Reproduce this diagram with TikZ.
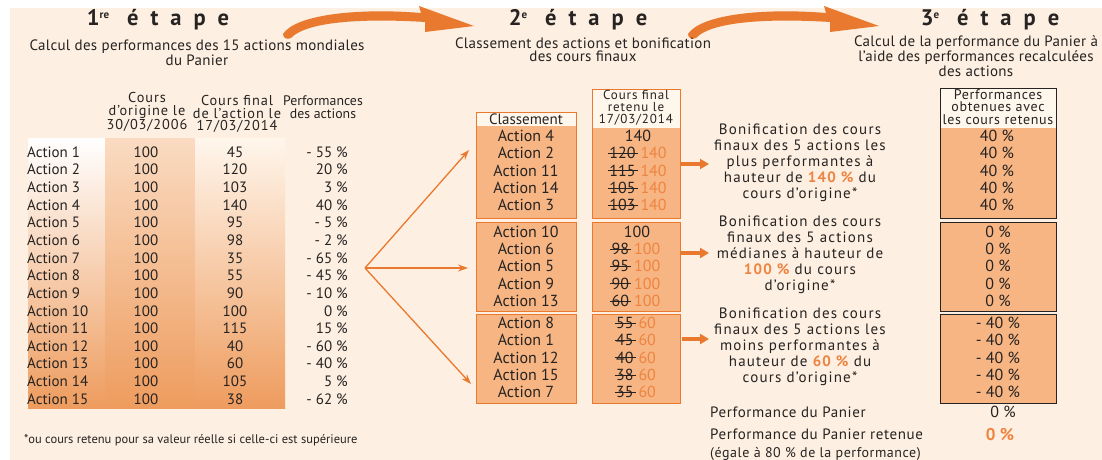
\documentclass[tikz,border=0pt]{standalone}
\usepackage{fontspec}
\setmainfont{PT Sans}
\usetikzlibrary{arrows.meta}
\definecolor{cream}{HTML}{FDEFE1}
\definecolor{org}{HTML}{E8792E}
\definecolor{orgtxt}{HTML}{EE8440}
\definecolor{boxfill}{HTML}{F6B583}
\definecolor{txt}{HTML}{262322}
\definecolor{bandbot}{HTML}{EE9C5E}
\definecolor{hdrfill}{HTML}{FFF6EC}
\newlength\stklen
\newcommand\stk[1]{\settowidth\stklen{#1}\makebox[0pt][l]{\kern-1.5pt\rule[0.3em]{\dimexpr\stklen+3.5pt\relax}{0.9pt}}#1}
\newcommand\etape{\hspace{18pt}é\kern12pt t\kern12pt a\kern12pt p\kern12pt e}
\newcommand\supx[1]{\raisebox{7pt}{\fontsize{11}{11}\selectfont #1}}
\newcommand\trk[1]{\addfontfeature{LetterSpace=#1}}
\tikzset{
 tab/.style={font=\fontsize{15}{16}\selectfont, text=txt, inner sep=0pt},
 mid/.style={font=\fontsize{16}{17}\selectfont, text=txt, inner sep=0pt},
 hdr/.style={font=\fontsize{14.3}{12.5}\selectfont\trk{6.5}, text=txt, align=center, inner sep=0pt},
 sub/.style={font=\fontsize{15}{13}\selectfont\trk{2}, text=txt, align=center, inner sep=0pt},
 bon/.style={font=\fontsize{15}{16}\selectfont\trk{8}, text=txt, align=center, inner sep=0pt},
 ttl/.style={font=\fontsize{22.5}{24}\selectfont\bfseries, text=txt, inner sep=0pt},
 obox/.style={draw=org, line width=1.4pt, fill=boxfill, inner sep=0pt, anchor=north west},
 kbox/.style={draw=txt, line width=1.4pt, fill=boxfill, inner sep=0pt, anchor=north west},
 hbox/.style={fill=hdrfill, inner sep=0pt, anchor=north west},
 thinarr/.style={draw=org, line width=1.3pt, -{Stealth[length=10pt,width=7pt]}},
 fatarr/.style={draw=org, line width=3.5pt, -{Triangle[length=9pt,width=10pt]}},
 bigarr/.style={fill=org}
}
\begin{document}
\begin{tikzpicture}[x=1pt,y=-1pt]
\useasboundingbox (0,0) rectangle (1102,460);
\fill[white] (0,0) rectangle (1102,460);
\fill[cream] (10,8) rectangle (1102,460);
% big curved arrows
\foreach \dx in {0,405}{
 \begin{scope}[xshift=\dx pt]
 \fill[bigarr] (283,34) .. controls (296,14) and (360,8) .. (421,13) -- (419,6) -- (474,26) -- (425,32) -- (425,22) .. controls (360,18) and (306,22) .. (291,38) .. controls (287,40) and (283,38) .. cycle;
 \end{scope}
}
% titles
\node[ttl] (t1) at (158,20) {1\supx{re}\etape};
\node[ttl] (t2) at (578,20) {2\supx{e}\etape};
\node[ttl] (t3) at (990,20) {3\supx{e}\etape};
\node[sub] (s1) at (197,53) {Calcul des performances des 15 actions mondiales\\du Panier};
\node[sub] (s2) at (583,50) {Classement des actions et bonification\\des cours finaux};
\node[sub] (s3) at (976,56) {Calcul de la performance du Panier à\\l’aide des performances recalculées\\des actions};
% table headers
\node[hdr] (h1) at (147,112) {Cours\\d’origine le\\30/03/2006};
\node[hdr] (h2) at (237,114) {Cours final\\de l’action le\\17/03/2014};
\node[hdr, font=\fontsize{13.8}{13}\selectfont] (h3) at (323,107) {Performances\\des actions};
% gradient bands
\shade[top color=white, bottom color=bandbot] (28,138) rectangle (105,408);
\shade[top color=hdrfill!70!bandbot, bottom color=bandbot] (105,138) rectangle (195,408);
\shade[top color=hdrfill, bottom color=bandbot] (195,138) rectangle (285,408);
% table rows
\foreach \i/\f/\p in {1/45/- 55,2/120/20,3/103/3,4/140/40,5/95/- 5,6/98/- 2,7/35/- 65,8/55/- 45,9/90/- 10,10/100/0,11/115/15,12/40/- 60,13/60/- 40,14/105/5,15/38/- 62}{
 \pgfmathsetmacro\yy{152+(\i-1)*17.64+5.3}
 \node[tab, anchor=base west] (a\i) at (27,\yy) {Action \i};
 \node[tab, anchor=base] (o\i) at (146,\yy) {100};
 \node[tab, anchor=base] (f\i) at (235,\yy) {\f};
 \node[tab, anchor=base east] (p\i) at (348,\yy) {\p~\%};
}
\node[font=\fontsize{12.5}{13}\selectfont, text=txt, inner sep=0pt, anchor=base west] (foot) at (24,443) {*ou cours retenu pour sa valeur réelle si celle-ci est supérieure};
% connectors from table
\coordinate (src) at (365,268);
\coordinate (g1t) at (469,150);
\coordinate (g2t) at (468,268);
\coordinate (g3t) at (471,384);
\draw[thinarr] (src) -- (g1t);
\draw[thinarr] (src) -- (g2t);
\draw[thinarr] (src) -- (g3t);
% middle boxes
\node[obox, minimum width=100pt, minimum height=106pt] (k1) at (476,112) {};
\node[hbox, minimum width=99pt, minimum height=13pt] (k1h) at (476.7,112.7) {};
\node[mid, font=\fontsize{15}{16}\selectfont] (kl) at (526,119) {Classement};
\node[obox, minimum width=100pt, minimum height=89pt] (k2) at (476,222) {};
\node[obox, minimum width=100pt, minimum height=89pt] (k3) at (476,314) {};
\node[obox, minimum width=88pt, minimum height=129pt] (c1) at (592,89) {};
\node[hbox, minimum width=86.6pt, minimum height=38pt] (c1h) at (592.7,89.7) {};
\node[hdr, font=\fontsize{13}{12}\selectfont\trk{7}] (cl) at (636,108) {Cours final\\retenu le\\17/03/2014};
\node[obox, minimum width=88pt, minimum height=89pt] (c2) at (592,222) {};
\node[obox, minimum width=88pt, minimum height=89pt] (c3) at (592,314) {};
% right boxes
\node[kbox, minimum width=116pt, minimum height=130pt] (r1) at (940,88) {};
\node[hbox, minimum width=114.6pt, minimum height=39pt] (r1h) at (940.7,88.7) {};
\node[hdr, font=\fontsize{14}{12.5}\selectfont\trk{5}] (rl) at (998,107) {Performances\\obtenues avec\\les cours retenus};
\node[kbox, minimum width=116pt, minimum height=89pt] (r2) at (940,222) {};
\node[kbox, minimum width=116pt, minimum height=89pt] (r3) at (940,314) {};
% group 1
\foreach \j/\n/\v in {0/4/140,1/2/120,2/11/115,3/14/105,4/3/103}{
 \pgfmathsetmacro\yy{136+\j*17.2+5.6}
 \node[mid, anchor=base] (ka\j) at (526,\yy) {Action \n};
 \ifnum\j=0
  \node[mid, anchor=base] (va\j) at (638,\yy) {\v};
 \else
  \node[mid, anchor=base] (va\j) at (638,\yy) {\stk{\v}\kern5pt\textcolor{orgtxt}{140}};
 \fi
 \node[mid, anchor=base] (ra\j) at (997,\yy) {40 \%};
}
% group 2
\foreach \j/\n/\v in {0/10/100,1/6/98,2/5/95,3/9/90,4/13/60}{
 \pgfmathsetmacro\yy{231.5+\j*17.3+5.6}
 \node[mid, anchor=base] (kb\j) at (526,\yy) {Action \n};
 \ifnum\j=0
  \node[mid, anchor=base] (vb\j) at (637,\yy) {\v};
 \else
  \node[mid, anchor=base] (vb\j) at (636,\yy) {\stk{\v}\kern5pt\textcolor{orgtxt}{100}};
 \fi
 \node[mid, anchor=base] (rb\j) at (998,\yy) {0 \%};
}
% group 3
\foreach \j/\n/\v in {0/8/55,1/1/45,2/12/40,3/15/38,4/7/35}{
 \pgfmathsetmacro\yy{323+\j*17.2+5.6}
 \node[mid, anchor=base] (kc\j) at (526,\yy) {Action \n};
 \node[mid, anchor=base] (vc\j) at (636,\yy) {\stk{\v}\kern5pt\textcolor{orgtxt}{60}};
 \node[mid, anchor=base] (rc\j) at (998,\yy) {- 40 \%};
}
% fat arrows
\coordinate (f1s) at (681,164); \coordinate (f1e) at (709,164);
\coordinate (f2s) at (681,253); \coordinate (f2e) at (709,253);
\coordinate (f3s) at (682,339); \coordinate (f3e) at (709,339);
\draw[fatarr] (f1s) -- (f1e);
\draw[fatarr] (f2s) -- (f2e);
\draw[fatarr] (f3s) -- (f3e);
% bonification texts
\node[bon] (b1) at (800,163) {Bonification des cours\\finaux des 5 actions les\\plus performantes à\\hauteur de \textcolor{orgtxt}{\bfseries 140 \%} du\\cours d’origine*};
\node[bon] (b2) at (800,255) {Bonification des cours\\finaux des 5 actions\\médianes à hauteur de\\\textcolor{orgtxt}{\bfseries 100 \%} du cours\\d’origine*};
\node[bon] (b3) at (800,347) {Bonification des cours\\finaux des 5 actions les\\moins performantes à\\hauteur de \textcolor{orgtxt}{\bfseries 60 \%} du\\cours d’origine*};
% bottom
\node[tab, anchor=base west, font=\fontsize{15}{16}\selectfont\trk{4}] (pp) at (710,417) {Performance du Panier};
\node[mid, anchor=base] (ppv) at (1003,417) {0 \%};
\node[tab, anchor=base west, font=\fontsize{15}{16}\selectfont\trk{4}] (pr) at (710,439) {Performance du Panier retenue};
\node[mid, anchor=base, font=\fontsize{17}{18}\selectfont\bfseries, text=orgtxt] (prv) at (1000,440) {0 \%};
\node[tab, anchor=base west, font=\fontsize{14}{14}\selectfont\trk{4}] (eg) at (710,457) {(égale à 80 \% de la performance)};
\end{tikzpicture}
\end{document}
